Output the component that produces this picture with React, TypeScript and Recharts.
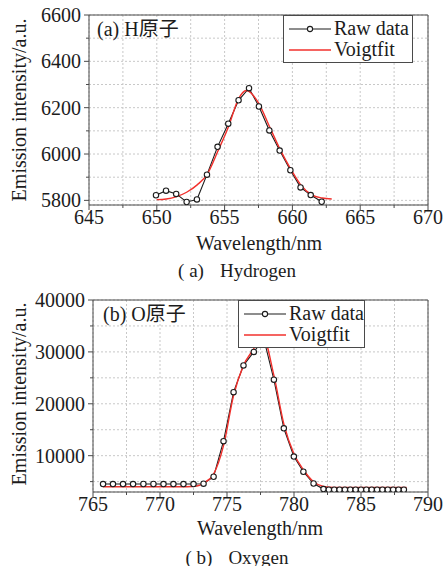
import { CartesianGrid, Legend, Line, LineChart, ReferenceLine, XAxis, YAxis } from "recharts";

const serif = '"Liberation Serif", "Times New Roman", serif';
const cjk = '"Liberation Serif", "Noto Sans CJK SC", serif';
const ink = "#1c1c1c";
const frame = "#4a4a4a";
const red = "#f2302c";
const gridColor = "#c8c8c8";

// (a) hydrogen line
const hWave = [649.94, 650.68, 651.43, 652.2, 652.96, 653.7, 654.48, 655.27, 656.03, 656.8, 657.53, 658.3, 659.06, 659.85, 660.6, 661.35, 662.16];
const hRaw = [5822, 5842, 5828, 5793, 5804, 5911, 6031, 6131, 6232, 6284, 6205, 6102, 6015, 5930, 5856, 5823, 5794];
const hFitWave = [650, 650.7, 651.4, 652.2, 653, 653.7, 654.5, 655.3, 656, 656.6, 657.5, 658.3, 659.1, 659.9, 660.6, 661.4, 662.2, 662.9];
const hFit = [5803, 5806, 5815, 5835, 5868, 5911, 6012, 6120, 6235, 6274, 6221, 6120, 6019, 5933, 5868, 5825, 5810, 5806];
const hXTicks = [645, 647.5, 650, 652.5, 655, 657.5, 660, 662.5, 665, 667.5, 670];
const hXMajor = [645, 650, 655, 660, 665, 670];
const hYTicks = [5800, 5900, 6000, 6100, 6200, 6300, 6400, 6500, 6600];
const hYMajor = [5800, 6000, 6200, 6400, 6600];

// (b) oxygen line
const oWave = [
  765.75, 766.49, 767.24, 767.99, 768.76, 769.51, 770.26, 771.0, 771.75, 772.5, 773.25, 774.0, 774.74, 775.49, 776.23,
  777.0, 777.75, 778.5, 779.24, 779.99, 780.7, 781.46, 782.2, 782.6, 783.0, 783.4, 783.8, 784.2, 784.6, 785.0, 785.4,
  785.8, 786.2, 786.6, 787.0, 787.4, 787.8, 788.2,
];
const oRaw = [
  4530, 4530, 4530, 4530, 4540, 4540, 4530, 4530, 4530, 4530, 4600, 5940, 12800, 22240, 27400, 30000, 32500, 24640,
  15280, 9830, 6900, 4640, 3560, 3450, 3450, 3450, 3450, 3450, 3450, 3450, 3450, 3450, 3450, 3450, 3450, 3450, 3450,
  3450,
];
const oFitWave = [765.75, 768, 770, 772, 772.75, 773.25, 774.0, 774.74, 775.49, 776.23, 777.0, 777.6, 778.5, 779.24, 780.0, 780.7, 781.46, 782.2, 783.0, 785.0, 788.4];
const oFit = [4000, 4000, 4000, 4020, 4150, 4720, 6460, 11930, 21600, 27400, 30640, 33500, 25470, 16130, 10330, 7290, 4970, 4060, 3870, 3870, 3870];
const oXTicks = [765, 767.5, 770, 772.5, 775, 777.5, 780, 782.5, 785, 787.5, 790];
const oXMajor = [765, 770, 775, 780, 785, 790];
const oYTicks = [5000, 10000, 15000, 20000, 25000, 30000, 35000, 40000];
const oYMajor = [10000, 20000, 30000, 40000];

const pairs = (xs: number[], ys: number[]) => xs.map((x, i) => ({ x, y: ys[i] }));

const makeXTick = (majors: number[]) => (props: any) => {
  const { x, y, payload } = props;
  const major = majors.includes(payload.value);
  return (
    <g>
      <line x1={x} x2={x} y1={y} y2={y + (major ? 5 : 3)} stroke={frame} />
      {major && (
        <text x={x} y={y + 5} dy="0.71em" textAnchor="middle" fill={ink} fontSize={20} fontFamily={serif}>
          {payload.value}
        </text>
      )}
    </g>
  );
};

const makeYTick = (majors: number[]) => (props: any) => {
  const { x, y, payload } = props;
  const major = majors.includes(payload.value);
  return (
    <g>
      <line x1={x} x2={x - (major ? 5 : 3)} y1={y} y2={y} stroke={frame} />
      {major && (
        <text x={x - 8} y={y} dy="0.35em" textAnchor="end" fill={ink} fontSize={20} fontFamily={serif}>
          {payload.value}
        </text>
      )}
    </g>
  );
};

function LegendBox({ width }: { width: number }) {
  const row = { display: "flex", alignItems: "center", height: 21 };
  return (
    <div
      style={{
        width,
        boxSizing: "border-box",
        border: `1px solid ${frame}`,
        background: "#fff",
        padding: "2px 0 2px 5px",
        fontFamily: serif,
        fontSize: 20,
        lineHeight: "21px",
        color: ink,
      }}
    >
      <div style={row}>
        <svg width={42} height={12}>
          <line x1={0} x2={42} y1={6} y2={6} stroke={ink} strokeWidth={1.1} />
          <circle cx={21} cy={6} r={2.6} stroke={ink} strokeWidth={1.1} fill="#fff" />
        </svg>
        <span style={{ marginLeft: 3 }}>Raw data</span>
      </div>
      <div style={row}>
        <svg width={42} height={12}>
          <line x1={0} x2={42} y1={6} y2={6} stroke={red} strokeWidth={1.4} />
        </svg>
        <span style={{ marginLeft: 3 }}>Voigtfit</span>
      </div>
    </div>
  );
}

function Text({ x, y, size = 20, font = serif, children }: any) {
  return (
    <div
      style={{
        position: "absolute",
        left: x,
        top: y,
        transform: "translate(-50%, -50%)",
        whiteSpace: "pre",
        fontFamily: font,
        fontSize: size,
        lineHeight: 1,
        color: ink,
      }}
    >
      {children}
    </div>
  );
}

function YLabel({ x, y }: { x: number; y: number }) {
  return (
    <div
      style={{
        position: "absolute",
        left: x,
        top: y,
        transform: "translate(-50%, -50%) rotate(-90deg)",
        whiteSpace: "nowrap",
        fontFamily: serif,
        fontSize: 20,
        lineHeight: 1,
        color: ink,
      }}
    >
      Emission intensity/a.u.
    </div>
  );
}

function Panel(props: {
  raw: { x: number; y: number }[];
  fit: { x: number; y: number }[];
  xDomain: [number, number];
  yDomain: [number, number];
  xTicks: number[];
  xMajor: number[];
  yTicks: number[];
  yMajor: number[];
  yWidth: number;
  height: number;
  legendLeft: number;
  legendWidth: number;
}) {
  const { raw, fit, xDomain, yDomain } = props;
  return (
    <LineChart width={446} height={props.height} margin={{ top: 15, right: 18, left: 0, bottom: 0 }}>
      <CartesianGrid stroke={gridColor} strokeDasharray="2 2" />
      <XAxis
        type="number"
        dataKey="x"
        domain={xDomain}
        ticks={props.xTicks}
        interval={0}
        height={25}
        tickSize={0}
        tickMargin={0}
        tickLine={false}
        tick={makeXTick(props.xMajor)}
        axisLine={{ stroke: frame }}
        allowDataOverflow
      />
      <YAxis
        type="number"
        domain={yDomain}
        ticks={props.yTicks}
        interval={0}
        width={props.yWidth}
        tickSize={0}
        tickMargin={0}
        tickLine={false}
        tick={makeYTick(props.yMajor)}
        axisLine={{ stroke: frame }}
        allowDataOverflow
      />
      <ReferenceLine y={yDomain[1]} stroke={frame} />
      <ReferenceLine x={xDomain[1]} stroke={frame} />
      <Line
        data={raw}
        dataKey="y"
        type="linear"
        stroke={ink}
        strokeWidth={1.1}
        dot={{ r: 2.7, stroke: ink, strokeWidth: 1.1, fill: "#fff" }}
        isAnimationActive={false}
      />
      <Line data={fit} dataKey="y" type="monotone" stroke={red} strokeWidth={1.4} dot={false} isAnimationActive={false} />
      <Legend
        layout="vertical"
        align="center"
        verticalAlign="middle"
        wrapperStyle={{ left: props.legendLeft, top: 15, width: props.legendWidth }}
        content={() => <LegendBox width={props.legendWidth} />}
      />
    </LineChart>
  );
}

export default function App() {
  return (
    <div style={{ position: "absolute", left: 0, top: 0, width: 446, height: 566, background: "#fff" }}>
      <div style={{ position: "absolute", left: 0, top: 0 }}>
        <Panel
          raw={pairs(hWave, hRaw)}
          fit={pairs(hFitWave, hFit)}
          xDomain={[645, 670]}
          yDomain={[5780, 6600]}
          xTicks={hXTicks}
          xMajor={hXMajor}
          yTicks={hYTicks}
          yMajor={hYMajor}
          yWidth={89}
          height={230}
          legendLeft={283}
          legendWidth={130}
        />
      </div>
      <div style={{ position: "absolute", left: 0, top: 285 }}>
        <Panel
          raw={pairs(oWave, oRaw)}
          fit={pairs(oFitWave, oFit)}
          xDomain={[765, 790]}
          yDomain={[3000, 40000]}
          xTicks={oXTicks}
          xMajor={oXMajor}
          yTicks={oYTicks}
          yMajor={oYMajor}
          yWidth={93}
          height={232}
          legendLeft={238}
          legendWidth={127}
        />
      </div>

      <div style={{ position: "absolute", left: 97, top: 19, fontFamily: cjk, fontSize: 20, lineHeight: 1, color: ink }}>
        (a) H原子
      </div>
      <div style={{ position: "absolute", left: 103, top: 304, fontFamily: cjk, fontSize: 20, lineHeight: 1, color: ink }}>
        (b) O原子
      </div>

      <YLabel x={19} y={110} />
      <YLabel x={19} y={394} />

      <Text x={259} y={243}>Wavelength/nm</Text>
      <Text x={260} y={528}>Wavelength/nm</Text>
      <Text x={237} y={270} size={19}>
        ( a)<span style={{ marginLeft: 16 }}>Hydrogen</span>
      </Text>
      <Text x={237} y={557} size={19}>
        ( b)<span style={{ marginLeft: 16 }}>Oxygen</span>
      </Text>
    </div>
  );
}
